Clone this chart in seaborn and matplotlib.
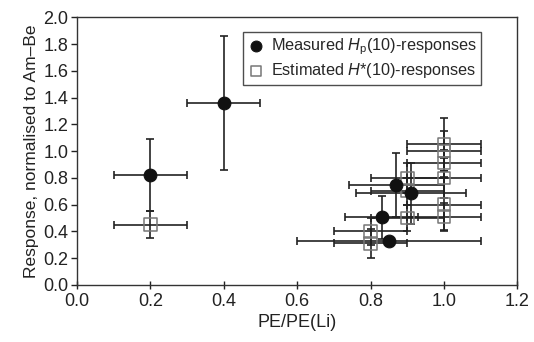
import matplotlib
matplotlib.use("Agg")
import matplotlib.pyplot as plt
import seaborn as sns
import pandas as pd

# Measured Hp(10)-responses
meas_x = [0.20, 0.40, 0.87, 0.91, 0.83, 0.85]
meas_y = [0.82, 1.36, 0.75, 0.685, 0.505, 0.33]
meas_xerr = [0.10, 0.10, 0.13, 0.15, 0.10, 0.25]
meas_yerr = [0.27, 0.50, 0.24, 0.23, 0.16, 0.0]

# Estimated H*(10)-responses
est_x = [0.20, 0.80, 0.80, 0.90, 0.90, 0.90, 1.00, 1.00, 1.00, 1.00, 1.00, 1.00]
est_y = [0.45, 0.40, 0.31, 0.80, 0.70, 0.50, 1.05, 1.00, 0.91, 0.80, 0.60, 0.51]
est_xerr = [0.10, 0.10, 0.10, 0.10, 0.10, 0.10, 0.10, 0.10, 0.10, 0.10, 0.10, 0.10]
est_yerr = [0.10, 0.10, 0.11, 0.11, 0.10, 0.10, 0.20, 0.15, 0.10, 0.15, 0.20, 0.10]

x_ticks = [0.0, 0.2, 0.4, 0.6, 0.8, 1.0, 1.2]
y_ticks = [0.0, 0.2, 0.4, 0.6, 0.8, 1.0, 1.2, 1.4, 1.6, 1.8, 2.0]

sns.set_style("ticks")
plt.rcParams['font.family'] = ['Liberation Sans', 'DejaVu Sans']
plt.rcParams['mathtext.fontset'] = 'custom'
plt.rcParams['mathtext.rm'] = 'Liberation Sans'
plt.rcParams['mathtext.it'] = 'Liberation Sans:italic'

fig = plt.figure(figsize=(5.34, 3.42), dpi=100)
ax = fig.add_axes([0.144, 0.167, 0.825, 0.782])

df_m = pd.DataFrame({"x": meas_x, "y": meas_y})
df_e = pd.DataFrame({"x": est_x, "y": est_y})

ekw = dict(fmt='none', ecolor='#222222', elinewidth=1.2, capsize=3, capthick=1.2, zorder=2)
ax.errorbar(est_x, est_y, xerr=est_xerr, yerr=est_yerr, **ekw)
ax.errorbar(meas_x, meas_y, xerr=meas_xerr, yerr=meas_yerr, **ekw)

sns.scatterplot(data=df_e, x="x", y="y", ax=ax, marker='s', s=80,
                facecolor='none', edgecolor='#777777', linewidth=1.1, zorder=3,
                label=r'Estimated $H$*(10)-responses')
sns.scatterplot(data=df_m, x="x", y="y", ax=ax, marker='o', s=85,
                color='#111111', edgecolor='#111111', zorder=4,
                label=r'Measured $H_\mathrm{p}$(10)-responses')

ax.set_xlim(0, 1.2)
ax.set_ylim(0, 2.0)
ax.set_xticks(x_ticks)
ax.set_yticks(y_ticks)
ax.set_xticklabels([f"{v:.1f}" for v in x_ticks])
ax.set_yticklabels([f"{v:.1f}" for v in y_ticks])
ax.set_xlabel("PE/PE(Li)", fontsize=13, color='#222222', labelpad=3)
ax.set_ylabel("Response, normalised to Am\u2013Be", fontsize=12.5, color='#222222', labelpad=3)
ax.tick_params(axis='x', bottom=True, direction='inout', length=6, width=1, labelsize=13,
               colors='#222222', pad=3)
ax.tick_params(axis='y', left=True, direction='out', length=4, width=1, labelsize=13,
               colors='#222222', pad=2)
for sp in ax.spines.values():
    sp.set_visible(True)
    sp.set_color('#333333')
    sp.set_linewidth(1.0)

handles, labels = ax.get_legend_handles_labels()
order = [1, 0]
leg = ax.legend([handles[i] for i in order], [labels[i] for i in order],
                loc='upper right', bbox_to_anchor=(0.918, 0.947), fontsize=11.7,
                frameon=True, fancybox=False, edgecolor='#222222',
                handletextpad=0.4, borderpad=0.3, labelspacing=0.25,
                handlelength=1.0, markerscale=0.85, borderaxespad=0)
leg.get_frame().set_linewidth(1.0)

fig.savefig("out.png", dpi=100)
